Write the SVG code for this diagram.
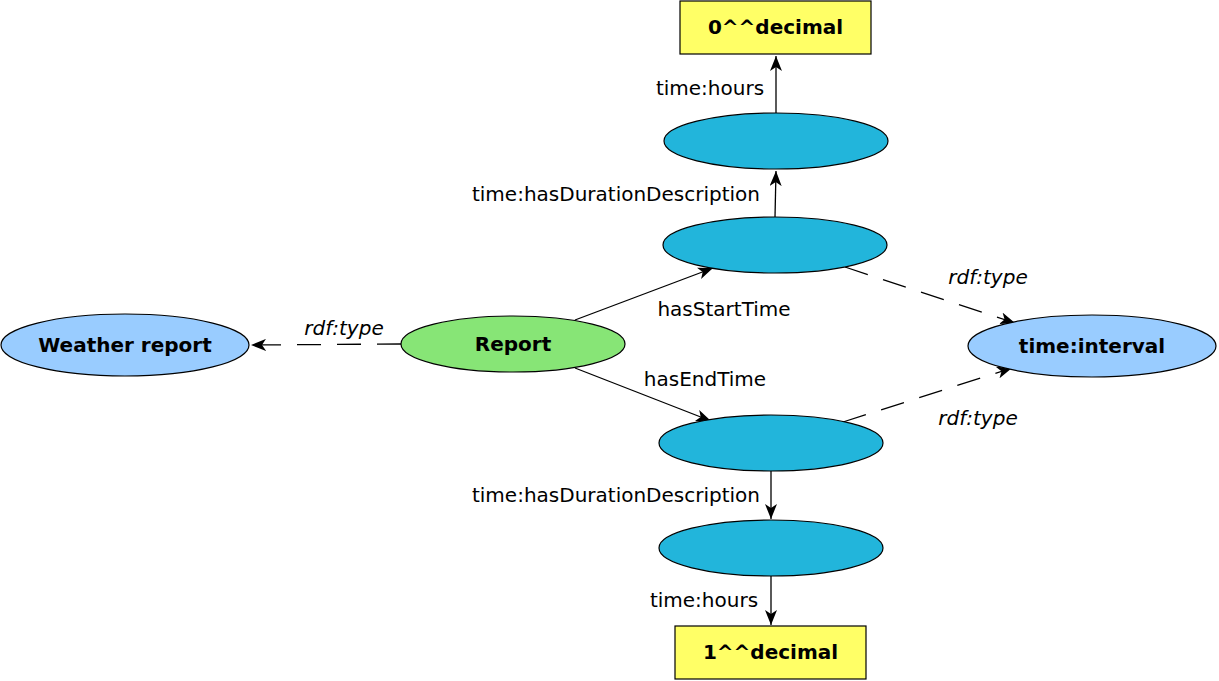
<svg xmlns="http://www.w3.org/2000/svg" width="1219" height="681" viewBox="0 0 1219 681">
<defs>
<marker id="arr" markerWidth="16" markerHeight="12" viewBox="0 0 16 12" refX="15" refY="6" orient="auto" markerUnits="userSpaceOnUse">
<path d="M0,0 L15,6 L0,12 L4,6 Z" fill="#000"/>
</marker>
<style>
.lbl{font-family:"DejaVu Sans",sans-serif;font-size:20px;fill:#000}
.it{font-style:italic}
.nb{font-family:"DejaVu Sans",sans-serif;font-size:20px;font-weight:bold;fill:#000}
.cls{fill:#99ccff;stroke:#000;stroke-width:1.2}
.blank{fill:#22b5db;stroke:#000;stroke-width:1.2}
.lit{fill:#ffff66;stroke:#000;stroke-width:1.2}
.e{stroke:#000;stroke-width:1.3;fill:none;marker-end:url(#arr)}
.d{stroke-dasharray:24,16}
</style>
</defs>
<g id="connectors">
<line class="e d" x1="401" y1="344" x2="251" y2="345"/>
<line class="e" x1="575" y1="320" x2="713" y2="268"/>
<line class="e" x1="575" y1="368" x2="711" y2="421"/>
<line class="e" x1="775" y1="217" x2="776" y2="171"/>
<line class="e" x1="776" y1="113" x2="776" y2="56"/>
<line class="e" x1="771" y1="471" x2="771" y2="519"/>
<line class="e" x1="771" y1="576" x2="771" y2="625"/>
<line class="e d" x1="845" y1="267" x2="1015" y2="323"/>
<line class="e d" x1="843" y1="422" x2="1012" y2="368"/>
<text class="lbl it" x="344" y="335" text-anchor="middle">rdf:type</text>
<text class="lbl" x="710" y="95" text-anchor="middle">time:hours</text>
<text class="lbl" x="616" y="201" text-anchor="middle">time:hasDurationDescription</text>
<text class="lbl" x="724" y="316" text-anchor="middle">hasStartTime</text>
<text class="lbl" x="705" y="386" text-anchor="middle">hasEndTime</text>
<text class="lbl it" x="988" y="284" text-anchor="middle">rdf:type</text>
<text class="lbl it" x="978" y="425" text-anchor="middle">rdf:type</text>
<text class="lbl" x="616" y="502" text-anchor="middle">time:hasDurationDescription</text>
<text class="lbl" x="704" y="607" text-anchor="middle">time:hours</text>
</g>
<g id="weather-report">
<ellipse class="cls" cx="125" cy="345" rx="124" ry="31"/>
<text class="nb" x="125" y="352" text-anchor="middle">Weather report</text>
</g>
<g id="report">
<ellipse cx="513" cy="344" rx="112" ry="28" fill="#87e576" stroke="#000" stroke-width="1.2"/>
<text class="nb" x="513" y="351" text-anchor="middle">Report</text>
</g>
<g id="decimal0">
<rect class="lit" x="680" y="1" width="191" height="53"/>
<text class="nb" x="775.5" y="34" text-anchor="middle">0^^decimal</text>
</g>
<g id="duration-start">
<ellipse class="blank" cx="776" cy="141" rx="112" ry="28"/>
</g>
<g id="start-time">
<ellipse class="blank" cx="775" cy="245" rx="112" ry="28"/>
</g>
<g id="end-time">
<ellipse class="blank" cx="771" cy="443" rx="112" ry="28"/>
</g>
<g id="duration-end">
<ellipse class="blank" cx="771" cy="548" rx="112" ry="28"/>
</g>
<g id="decimal1">
<rect class="lit" x="675" y="626" width="191" height="53"/>
<text class="nb" x="770.5" y="659" text-anchor="middle">1^^decimal</text>
</g>
<g id="time-interval">
<ellipse class="cls" cx="1092" cy="346" rx="124" ry="31"/>
<text class="nb" x="1092" y="353" text-anchor="middle">time:interval</text>
</g>
</svg>
